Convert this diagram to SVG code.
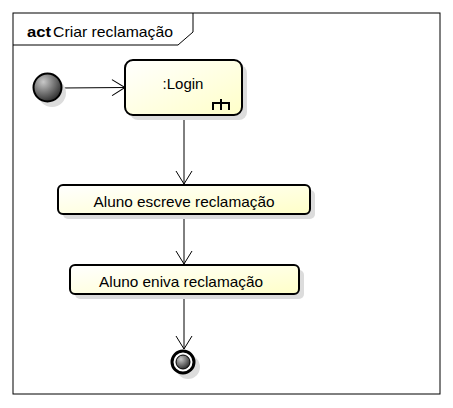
<svg xmlns="http://www.w3.org/2000/svg" width="453" height="408" viewBox="0 0 453 408">
<style>
.lbl{font-family:"Liberation Sans",Arial,sans-serif;font-size:15px;fill:#000}
.box{stroke:#000;stroke-width:2;fill:url(#yg)}
.sh{fill:#dcdcdc;stroke:none}
.cn{stroke:#000;stroke-width:1;fill:none}
</style>
<defs>
<linearGradient id="yg" x1="0" y1="0" x2="1" y2="1">
<stop offset="0" stop-color="#ffffff"/>
<stop offset="1" stop-color="#ffffc8"/>
</linearGradient>
<radialGradient id="gg" cx="0.35" cy="0.3" r="0.8">
<stop offset="0" stop-color="#c8c8c8"/>
<stop offset="1" stop-color="#202020"/>
</radialGradient>
<marker id="ar" markerWidth="16" markerHeight="18" refX="14" refY="9" orient="auto" markerUnits="userSpaceOnUse">
<path d="M1,1 L14,9 L1,17" fill="none" stroke="#000" stroke-width="1"/>
</marker>
</defs>
<rect width="453" height="408" fill="#fff"/>
<g id="frame">
<rect x="13" y="13" width="427" height="381" fill="none" stroke="#000" stroke-width="1"/>
<path d="M13,45 H178 L193,32 V13" fill="none" stroke="#000" stroke-width="1"/>
<text x="27" y="37" class="lbl" style="font-weight:bold" textLength="24" lengthAdjust="spacingAndGlyphs">act</text>
<text x="53" y="37" class="lbl" textLength="120" lengthAdjust="spacingAndGlyphs">Criar reclamação</text>
</g>
<g id="connectors">
<line class="cn" x1="62" y1="88" x2="125" y2="87.5" marker-end="url(#ar)"/>
<line class="cn" x1="184" y1="115" x2="184" y2="184" marker-end="url(#ar)"/>
<line class="cn" x1="184" y1="214" x2="184" y2="264" marker-end="url(#ar)"/>
<line class="cn" x1="184" y1="294" x2="184" y2="349" marker-end="url(#ar)"/>
</g>
<g id="initial">
<circle cx="52" cy="93" r="14" class="sh"/>
<circle cx="47.5" cy="87.5" r="14" fill="url(#gg)" stroke="#000" stroke-width="2"/>
</g>
<g id="login">
<rect x="130" y="65" width="117" height="55" rx="8" class="sh"/>
<rect x="125" y="60" width="117" height="55" rx="8" class="box"/>
<text x="183" y="89" class="lbl" text-anchor="middle">:Login</text>
<path d="M213,110 V103 H229 V110 M221,99 V110" fill="none" stroke="#000" stroke-width="2"/>
</g>
<g id="escreve">
<rect x="63" y="190" width="252" height="29" rx="5" class="sh"/>
<rect x="58" y="185" width="252" height="29" rx="5" class="box"/>
<text x="184" y="207" class="lbl" text-anchor="middle" textLength="181" lengthAdjust="spacingAndGlyphs">Aluno escreve reclamação</text>
</g>
<g id="envia">
<rect x="75" y="270" width="229" height="29" rx="5" class="sh"/>
<rect x="70" y="265" width="229" height="29" rx="5" class="box"/>
<text x="181" y="287" class="lbl" text-anchor="middle" textLength="164" lengthAdjust="spacingAndGlyphs">Aluno eniva reclamação</text>
</g>
<g id="final">
<circle cx="188" cy="367" r="12" class="sh"/>
<circle cx="183" cy="362" r="11" fill="#fff" stroke="#000" stroke-width="3"/>
<circle cx="183" cy="362" r="7" fill="url(#gg)" stroke="#000" stroke-width="1"/>
</g>
</svg>
